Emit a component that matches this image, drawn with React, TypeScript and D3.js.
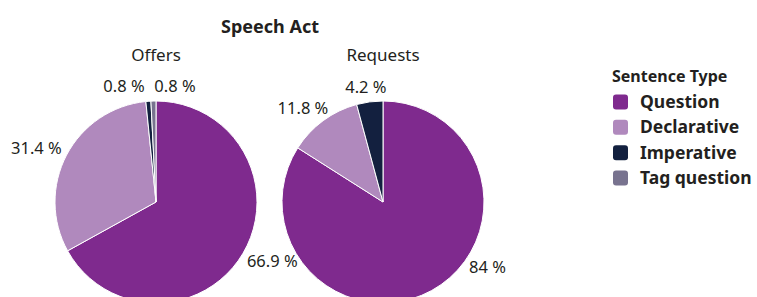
import { useEffect, useRef } from 'react';
import * as d3 from 'd3';

const sentenceTypes = ['Question', 'Declarative', 'Imperative', 'Tag question'];
const typeColors = ['#7f2a8e', '#b089bd', '#13203f', '#78738f'];
const speechActs = ['Offers', 'Requests'];
const offersValues = [66.9, 31.4, 0.8, 0.8];
const requestsValues = [84, 11.8, 4.2, 0];
const chartTitle = 'Speech Act';
const legendTitle = 'Sentence Type';

const FONT = '"Noto Sans", "Open Sans", sans-serif';

export default function App() {
  const ref = useRef<SVGSVGElement | null>(null);

  useEffect(() => {
    const width = 757;
    const height = 297;
    const radius = 101;
    const svg = d3.select(ref.current);
    svg.selectAll('*').remove();

    const centers = d3.scalePoint().domain(speechActs).range([156, 383]);
    const cy = 202;

    svg
      .append('text')
      .attr('x', 270)
      .attr('y', 33)
      .attr('text-anchor', 'middle')
      .style('font-family', FONT)
      .style('font-size', '18px')
      .style('font-weight', 'bold')
      .style('fill', '#231f20')
      .text(chartTitle);

    const pie = d3
      .pie<number>()
      .sort(null)
      .value((d) => d);
    const arc = d3.arc<d3.PieArcDatum<number>>().innerRadius(0).outerRadius(radius);

    const seriesList = [offersValues, requestsValues];

    seriesList.forEach((values, si) => {
      const cx = centers(speechActs[si])!;
      const g = svg.append('g').attr('transform', `translate(${cx},${cy})`);

      svg
        .append('text')
        .attr('x', cx)
        .attr('y', 61)
        .attr('text-anchor', 'middle')
        .style('font-family', FONT)
        .style('font-size', '17px')
        .style('fill', '#231f20')
        .text(speechActs[si]);

      const arcs = pie(values);
      g.selectAll('path')
        .data(arcs.filter((a) => a.value > 0))
        .enter()
        .append('path')
        .attr('d', arc)
        .attr('fill', (d) => typeColors[d.index])
        .attr('stroke', '#fff')
        .attr('stroke-width', 1);

      // label placement: outside the rim, pushed away by half the text size
      const labels = arcs
        .filter((a) => a.value > 0)
        .map((a) => {
          let mid = (a.startAngle + a.endAngle) / 2;
          const maxA = (124 / 180) * Math.PI;
          if (mid > maxA && mid < Math.PI) mid = maxA;
          const text = `${a.value} %`;
          const w = text.length * 9;
          const h = 16;
          const r = radius + 7;
          return {
            text,
            w,
            x: Math.sin(mid) * (r + w / 2),
            y: -Math.cos(mid) * r - Math.cos(mid) * (h / 2),
          };
        });

      // spread labels that overlap horizontally
      for (let iter = 0; iter < 20; iter++) {
        for (let i = 0; i < labels.length; i++) {
          for (let j = i + 1; j < labels.length; j++) {
            const a = labels[i];
            const b = labels[j];
            if (Math.abs(a.y - b.y) < 14) {
              const need = (a.w + b.w) / 2 + 6;
              const dist = b.x - a.x;
              if (Math.abs(dist) < need) {
                const push = (need - Math.abs(dist)) / 2;
                const s = dist >= 0 ? 1 : -1;
                a.x -= push * s;
                b.x += push * s;
              }
            }
          }
        }
      }

      g.selectAll('text.lbl')
        .data(labels)
        .enter()
        .append('text')
        .attr('class', 'lbl')
        .attr('x', (d) => d.x)
        .attr('y', (d) => d.y)
        .attr('dy', '0.35em')
        .attr('text-anchor', 'middle')
        .style('font-family', FONT)
        .style('font-size', '16.5px')
        .style('fill', '#231f20')
        .text((d) => d.text);
    });

    // legend
    const legend = svg.append('g').attr('transform', 'translate(612,0)');
    legend
      .append('text')
      .attr('x', 0)
      .attr('y', 82)
      .style('font-family', FONT)
      .style('font-size', '16px')
      .style('font-weight', 'bold')
      .style('fill', '#231f20')
      .text(legendTitle);

    const ly = d3
      .scalePoint()
      .domain(sentenceTypes)
      .range([102, 178]);

    const items = legend
      .selectAll('g.item')
      .data(sentenceTypes)
      .enter()
      .append('g')
      .attr('class', 'item')
      .attr('transform', (d) => `translate(0,${ly(d)})`);

    items
      .append('rect')
      .attr('x', 1)
      .attr('y', -7.5)
      .attr('width', 15)
      .attr('height', 15)
      .attr('rx', 3)
      .attr('fill', (_d, i) => typeColors[i]);

    items
      .append('text')
      .attr('x', 28)
      .attr('y', 0)
      .attr('dy', '0.35em')
      .style('font-family', FONT)
      .style('font-size', '17.5px')
      .style('font-weight', 'bold')
      .style('fill', '#231f20')
      .text((d) => d);

    svg.attr('width', width).attr('height', height);
  }, []);

  return (
    <svg
      ref={ref}
      width={757}
      height={297}
      style={{ position: 'absolute', left: 0, top: 0, display: 'block', background: '#fff' }}
    />
  );
}
